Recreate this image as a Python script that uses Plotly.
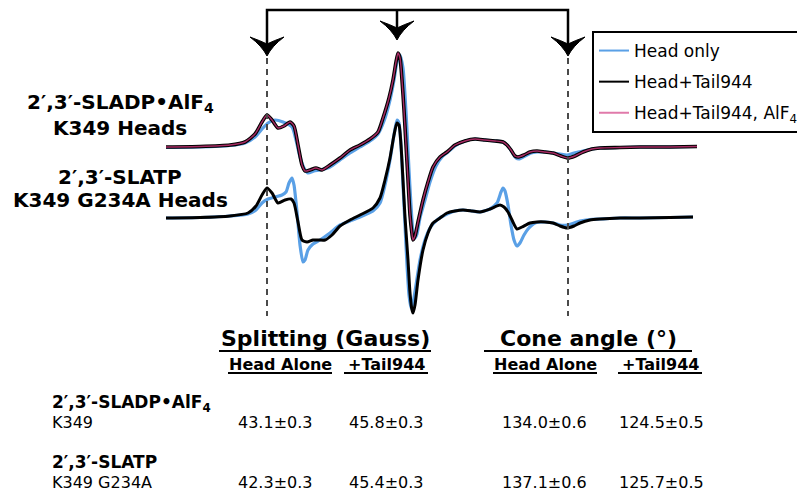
import plotly.graph_objects as go

# ---------------- data (EPR first-derivative spectra; plot units) -------------
# Upper sample: 2',3'-SLADP.AlF4, K349 heads
sladp_tail_x = [166, 200, 230, 245, 255, 262, 267, 272, 278, 284, 290, 294, 298, 302, 305, 310, 316, 322,
                330, 340, 350, 360, 370, 378, 383, 389, 393, 396, 398, 400, 402, 404, 406, 408, 410, 412,
                413, 415, 418, 423, 428, 433, 440, 447, 455, 465, 475, 485, 495, 503, 507, 511, 515, 518,
                524, 530, 537, 545, 553, 561, 568, 575, 583, 592, 600, 620, 640, 670, 697]
sladp_tail_y = [147, 146.5, 145, 142, 134, 122, 115, 120, 128, 126, 122, 126, 145, 165, 171, 170, 168, 170,
                165, 158, 150, 145, 139, 132, 118, 98, 80, 62, 53, 58, 80, 110, 145, 180, 215, 234,
                240, 236, 222, 200, 182, 167, 157, 152, 145, 141, 139, 140, 141, 142, 145, 150, 156, 157,
                155, 152, 151, 152, 153, 156, 158, 156, 152, 149, 148, 147.5, 147, 147, 146.5]
sladp_head_x = [166, 200, 230, 245, 255, 262, 268, 275, 283, 292, 296, 300, 304, 308, 314, 320,
                330, 340, 350, 360, 370, 378, 384, 390, 394, 397, 400, 403, 405, 407, 409, 411, 413,
                415, 417, 420, 425, 430, 436, 442, 448, 455, 465, 475, 485, 495, 503, 508, 512, 516, 519,
                525, 531, 537, 545, 553, 560, 567, 574, 583, 592, 600, 620, 640, 670, 697]
sladp_head_y = [147.5, 147, 145.5, 143, 137, 129, 123, 120, 122, 127, 140, 157, 168, 173, 171, 170,
                167, 160, 153, 147, 141, 134, 121, 100, 80, 62, 55, 68, 95, 130, 170, 205, 232,
                238, 234, 218, 200, 182, 166, 157, 152, 146, 141, 139, 140, 141, 142, 146, 152, 158, 159,
                156, 153, 152, 152, 153, 154, 155, 153, 151, 149, 148, 147.5, 147, 147, 146.5]

# Lower sample: 2',3'-SLATP, K349 G234A heads
slatp_tail_x = [166, 200, 230, 248, 256, 262, 267, 272, 278, 285, 291, 294, 298, 302, 307, 313, 319, 325,
                332, 340, 350, 360, 373, 380, 385, 390, 394, 397, 399, 401, 403, 405, 408, 410, 412, 413,
                415, 418, 423, 428, 433, 440, 447, 455, 463, 472, 480, 490, 500, 504, 508, 512, 517, 522,
                530, 537, 545, 553, 560, 567, 574, 580, 590, 600, 620, 640, 670, 693]
slatp_tail_y = [218, 217.5, 216, 213, 206, 195, 188, 193, 203, 200, 199, 203, 222, 240, 242, 240, 240, 240,
                235, 226, 220, 215, 208, 198, 180, 158, 135, 123, 125, 145, 180, 217, 260, 293, 310, 313,
                305, 280, 250, 233, 223, 218, 213, 211, 210, 211, 212, 209, 205, 207, 212, 220, 229, 227,
                223, 222, 222, 223, 226, 228, 226, 223, 220, 219, 218, 218, 217.5, 217]
slatp_head_x = [166, 200, 230, 248, 256, 262, 268, 275, 282, 286, 289, 292, 294, 297, 300, 303, 305, 308,
                313, 320, 330, 340, 350, 360, 373, 380, 385, 390, 394, 397, 399, 401, 403, 405, 407, 409,
                411, 413, 416, 420, 425, 430, 437, 447, 455, 463, 472, 480, 490, 497, 501, 503, 505, 508,
                511, 514, 517, 520, 524, 528, 535, 545, 553, 560, 567, 574, 580, 590, 600, 620, 640, 670, 693]
slatp_head_y = [218, 217.5, 216, 214, 210, 203, 199, 197, 195, 192, 183, 178, 185, 212, 245, 262, 260, 250,
                244, 240, 233, 225, 221, 217, 211, 203, 185, 160, 135, 120, 123, 145, 185, 225, 265, 295,
                308, 303, 285, 260, 240, 228, 220, 214, 211, 210, 211, 212, 209, 203, 192, 188, 191, 205,
                225, 240, 246, 243, 235, 229, 223, 222, 223, 225, 225, 223, 221, 219.5, 219, 218, 218, 217.5, 217]

series_names = ["Head only", "Head+Tail944", "Head+Tail944, AlF<sub>4</sub>"]
series_colors = ["#5aa0e6", "#000000", "#e07aaa"]

sample_labels = [["2′,3′-SLADP•AlF<sub>4</sub>", "K349 Heads"],
                 ["2′,3′-SLATP", "K349 G234A Heads"]]

# table values
row_titles = ["2′,3′-SLADP•AlF<sub>4</sub>", "2′,3′-SLATP"]
row_constructs = ["K349", "K349 G234A"]
split_head = [43.1, 42.3]
split_head_err = [0.3, 0.3]
split_tail = [45.8, 45.4]
split_tail_err = [0.3, 0.3]
cone_head = [134.0, 137.1]
cone_head_err = [0.6, 0.6]
cone_tail = [124.5, 125.7]
cone_tail_err = [0.5, 0.5]
group_headers = ["Splitting (Gauss)", "Cone angle (°)"]
col_headers = ["Head Alone", "+Tail944", "Head Alone", "+Tail944"]

# marker (hyperfine extrema) positions and arrows
outer_marker_x = [267, 568]
arrow_x = [267, 397, 568]
arrow_tip_y = [56, 40, 56]

# ---------------- figure ----------------
W, H = 797, 491
FONT = "DejaVu Sans"
fig = go.Figure()

def curve(x, y, color, width):
    fig.add_trace(go.Scatter(x=x, y=y, mode="lines", showlegend=False, hoverinfo="skip",
                             line=dict(color=color, width=width, shape="spline", smoothing=0.6)))

curve(sladp_head_x, sladp_head_y, series_colors[0], 3.2)
curve(sladp_tail_x, sladp_tail_y, "#000000", 3.6)
curve(sladp_tail_x, sladp_tail_y, "#a52a62", 1.4)
curve(slatp_head_x, slatp_head_y, series_colors[0], 3.2)
curve(slatp_tail_x, slatp_tail_y, series_colors[1], 3.0)

# legend entries
for i, (nm, col) in enumerate(zip(series_names, series_colors)):
    fig.add_trace(go.Scatter(x=[None], y=[None], mode="lines", name=nm, legendgroup=f"g{i}",
                             line=dict(color=col, width=2)))

shapes = []
# dashed guide lines
for xv in outer_marker_x:
    shapes.append(dict(type="line", xref="x", yref="y", x0=xv, x1=xv, y0=58, y1=316,
                       line=dict(color="#4a4a4a", width=2, dash="6px,5px")))
# bracket
bracket_y = 10
shapes.append(dict(type="path", xref="x", yref="y",
                   path=f"M{arrow_x[0]},{arrow_tip_y[0]-12} V{bracket_y} H{arrow_x[2]} V{arrow_tip_y[2]-12}",
                   line=dict(color="black", width=2.5)))
shapes.append(dict(type="line", xref="x", yref="y", x0=arrow_x[1], x1=arrow_x[1],
                   y0=bracket_y, y1=arrow_tip_y[1] - 12, line=dict(color="black", width=2.5)))
for cx, ty in zip(arrow_x, arrow_tip_y):
    w, h = 17, 19
    p = (f"M{cx-w},{ty-h} Q{cx-5},{ty-10} {cx},{ty} Q{cx+5},{ty-10} {cx+w},{ty-h} "
         f"Q{cx+6},{ty-15} {cx},{ty-12} Q{cx-6},{ty-15} {cx-w},{ty-h} Z")
    shapes.append(dict(type="path", xref="x", yref="y", path=p, fillcolor="black",
                       line=dict(color="black", width=1)))

ann = []
def text(x, y, s, size, bold=False, anchor="center"):
    if bold:
        s = f"<b>{s}</b>"
    ann.append(dict(x=x, y=y, xref="x", yref="y", text=s, showarrow=False, xanchor=anchor,
                    yanchor="middle", font=dict(family=FONT, size=size, color="black")))

def underline(x0, x1, y, width):
    shapes.append(dict(type="line", xref="x", yref="y", x0=x0, x1=x1, y0=y, y1=y,
                       line=dict(color="black", width=width)))

# sample labels
label_y = [[103, 128], [177, 200]]
for lines, ys in zip(sample_labels, label_y):
    for ln, yv in zip(lines, ys):
        text(120, yv, ln, 20, bold=True)

# table headers (underlined)
group_x = [325, 588]
group_half = [106, 104]
for gx, gh, hd in zip(group_x, group_half, group_headers):
    text(gx, 338, hd, 22, bold=True)
    underline(gx - gh, gx + gh, 351, 2.2)
col_x = [280, 386, 545, 660]
col_half = [52, 42, 52, 42]
for cx, ch, hd in zip(col_x, col_half, col_headers):
    text(cx, 364, hd, 16, bold=True)
    underline(cx - ch, cx + ch, 373, 1.8)

row_title_y = [403, 462]
row_val_y = [422, 482]
val_x = [275, 386, 544, 661]
for i in range(2):
    text(50, row_title_y[i], row_titles[i], 17, bold=True, anchor="left")
    text(50, row_val_y[i], row_constructs[i], 16, anchor="left")
    vals = [(split_head[i], split_head_err[i]), (split_tail[i], split_tail_err[i]),
            (cone_head[i], cone_head_err[i]), (cone_tail[i], cone_tail_err[i])]
    for vx, (v, e) in zip(val_x, vals):
        text(vx, row_val_y[i], f"{v:.1f}±{e:.1f}", 16)

fig.update_layout(
    width=W, height=H, autosize=False,
    margin=dict(l=0, r=0, t=0, b=0, autoexpand=False),
    paper_bgcolor="white", plot_bgcolor="white",
    xaxis=dict(range=[0, W], visible=False, fixedrange=True),
    yaxis=dict(range=[H, 0], visible=False, fixedrange=True),
    shapes=shapes, annotations=ann,
    legend=dict(x=592 / W, y=1 - 31 / H, xanchor="left", yanchor="top",
                bordercolor="black", borderwidth=2, bgcolor="white",
                font=dict(family=FONT, size=17, color="black"),
                tracegroupgap=6, itemwidth=30),
    showlegend=True,
)
fig.write_html("out.html")
